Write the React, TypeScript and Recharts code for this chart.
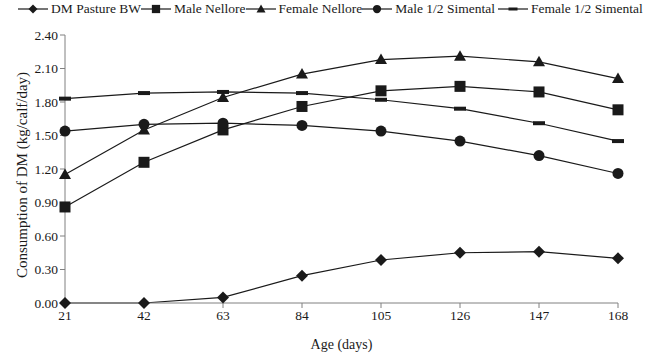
import React from 'react';
import { LineChart, Line, XAxis, YAxis } from 'recharts';

// values
const ages = [21, 42, 63, 84, 105, 126, 147, 168];
const dmPasture = [0, 0, 0.05, 0.245, 0.385, 0.45, 0.46, 0.4];
const maleNellore = [0.86, 1.26, 1.55, 1.76, 1.9, 1.94, 1.89, 1.73];
const femaleNellore = [1.15, 1.55, 1.84, 2.05, 2.18, 2.21, 2.16, 2.01];
const maleSimental = [1.54, 1.6, 1.61, 1.59, 1.54, 1.45, 1.32, 1.16];
const femaleSimental = [1.83, 1.88, 1.89, 1.88, 1.82, 1.74, 1.61, 1.45];
const yTicks = [0, 0.3, 0.6, 0.9, 1.2, 1.5, 1.8, 2.1, 2.4];

const data = ages.map((age, i) => ({
  age,
  dm: dmPasture[i],
  mn: maleNellore[i],
  fn: femaleNellore[i],
  ms: maleSimental[i],
  fs: femaleSimental[i],
}));

const FONT = '"Liberation Serif", "Times New Roman", serif';
const INK = '#1a1a1a';
const AXIS = '#808080';

type Shape = 'diamond' | 'square' | 'triangle' | 'circle' | 'dash';

const Marker = ({ shape, cx, cy }: { shape: Shape; cx: number; cy: number }) => {
  switch (shape) {
    case 'diamond':
      return <polygon points={`${cx},${cy - 6} ${cx + 6},${cy} ${cx},${cy + 6} ${cx - 6},${cy}`} fill={INK} />;
    case 'square':
      return <rect x={cx - 5.5} y={cy - 5.5} width={11} height={11} fill={INK} />;
    case 'triangle':
      return <polygon points={`${cx},${cy - 6} ${cx + 6},${cy + 4.5} ${cx - 6},${cy + 4.5}`} fill={INK} />;
    case 'circle':
      return <circle cx={cx} cy={cy} r={5.5} fill={INK} />;
    default:
      return <rect x={cx - 6} y={cy - 2} width={12} height={4} fill={INK} />;
  }
};

const dotFor = (shape: Shape) => (props: any) => (
  <Marker key={`${shape}-${props.index}`} shape={shape} cx={props.cx} cy={props.cy} />
);

const series: { key: string; name: string; shape: Shape }[] = [
  { key: 'dm', name: 'DM Pasture BW', shape: 'diamond' },
  { key: 'mn', name: 'Male Nellore', shape: 'square' },
  { key: 'fn', name: 'Female Nellore', shape: 'triangle' },
  { key: 'ms', name: 'Male 1/2 Simental', shape: 'circle' },
  { key: 'fs', name: 'Female 1/2 Simental', shape: 'dash' },
];

const LegendRow = () => (
  <div
    style={{
      position: 'absolute',
      top: 0,
      left: 18,
      display: 'flex',
      alignItems: 'center',
      fontFamily: FONT,
      fontSize: 13.5,
      color: INK,
      whiteSpace: 'nowrap',
      lineHeight: '17px',
    }}
  >
    {series.map((s, i) => (
      <div key={s.key} style={{ display: 'flex', alignItems: 'center', marginLeft: i === 4 ? 3 : 0 }}>
        <svg width={30} height={14} style={{ marginRight: 3 }}>
          <line x1={0} y1={7} x2={30} y2={7} stroke={INK} strokeWidth={1.2} />
          <g transform="translate(15,7) scale(0.75) translate(-15,-7)">
            <Marker shape={s.shape} cx={15} cy={7} />
          </g>
        </svg>
        <span>{s.name}</span>
      </div>
    ))}
  </div>
);

const YTitle = (props: any) => {
  const vb = props.viewBox || { y: 35, height: 268 };
  const cy = vb.y + vb.height / 2 + 6;
  return (
    <text
      x={22}
      y={cy}
      transform={`rotate(-90, 22, ${cy})`}
      textAnchor="middle"
      dominantBaseline="central"
      fill={INK}
      fontSize={15}
      fontFamily={FONT}
    >
      Consumption of DM (kg/calf/day)
    </text>
  );
};

export default function App() {
  return (
    <div style={{ position: 'absolute', left: 0, top: 0, width: 657, height: 355, background: '#fff' }}>
      <LegendRow />
      <LineChart width={657} height={355} data={data} margin={{ top: 35, right: 39, left: 0, bottom: 22 }}>
        <XAxis
          dataKey="age"
          type="number"
          domain={[21, 168]}
          ticks={ages}
          stroke={AXIS}
          tickSize={5}
          tick={{ fill: INK, fontSize: 13.5, fontFamily: FONT }}
          height={30}
          label={{ value: 'Age (days)', position: 'insideBottom', offset: -16, fill: INK, fontSize: 14, fontFamily: FONT }}
        />
        <YAxis
          type="number"
          domain={[0, 2.4]}
          ticks={yTicks}
          stroke={AXIS}
          width={65}
          tickSize={5}
          tickFormatter={(v: number) => v.toFixed(2)}
          tick={{ fill: INK, fontSize: 13.5, fontFamily: FONT }}
          label={{ content: YTitle }}
        />
        {series.map((s) => (
          <Line
            key={s.key}
            type="linear"
            dataKey={s.key}
            name={s.name}
            stroke={INK}
            strokeWidth={1.2}
            dot={dotFor(s.shape)}
            activeDot={false}
            isAnimationActive={false}
          />
        ))}
      </LineChart>
    </div>
  );
}
